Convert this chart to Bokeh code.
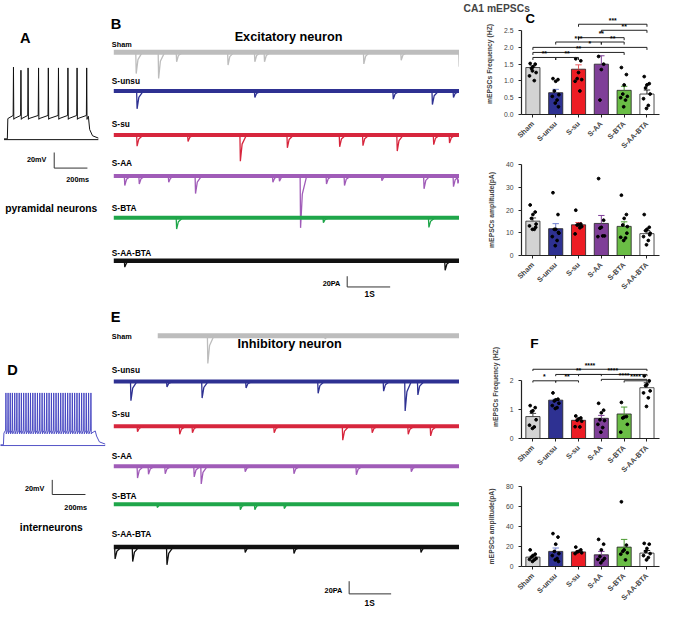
import math
from bokeh.plotting import figure
from bokeh.layouts import row, column
from bokeh.models import Range1d, FixedTicker, NumeralTickFormatter
from bokeh.embed import file_html
from bokeh.resources import INLINE
from bokeh.core.properties import value

FONT = "Liberation Sans"
SX = 660 / 676

def fs(px):
    return f"{px * SX:.1f}px"

# ---------------- data ----------------
groups = ["Sham", "S-unsu", "S-su", "S-AA", "S-BTA", "S-AA-BTA"]
bar_fill = ["#d3d3d3", "#2e3192", "#ed1c24", "#7f3f98", "#6abd45", "#ffffff"]
err_color = ["#444444", "#7080d0", "#e8585c", "#7f3f98", "#4a9a30", "#222222"]
trace_color = ["#bdbdbd", "#2e3192", "#d7263d", "#a05cb8", "#1fa64a", "#111111"]

# C: excitatory frequency (Hz)
c_freq_mean = [1.40, 0.65, 1.35, 1.50, 0.72, 0.61]
c_freq_sem = [0.05, 0.10, 0.13, 0.25, 0.12, 0.12]
c_freq_pts = [
    [1.52, 1.50, 1.42, 1.37, 1.25, 1.15, 1.01, 1.30],
    [1.07, 1.04, 0.99, 0.70, 0.59, 0.54, 0.43, 0.34, 0.23],
    [1.66, 1.60, 1.25, 1.07, 1.04, 0.99, 0.70],
    [1.73, 1.50, 1.34, 0.43],
    [1.40, 1.19, 0.88, 0.61, 0.54, 0.50, 0.43, 0.23],
    [1.13, 0.92, 0.88, 0.79, 0.61, 0.47, 0.27, 0.18],
]
# C: excitatory amplitude (pA)
c_amp_mean = [15.1, 11.8, 13.5, 14.1, 12.8, 9.6]
c_amp_sem = [1.4, 2.2, 1.0, 3.5, 2.0, 1.3]
c_amp_pts = [
    [22.2, 19.1, 18.0, 16.3, 13.8, 13.0, 11.5, 11.5, 12.4],
    [27.6, 18.0, 11.5, 11.5, 9.8, 8.3, 6.6, 4.3, 10.1],
    [19.9, 13.8, 13.6, 13.4, 12.7, 9.5, 12.2],
    [33.8, 15.5, 12.4, 12.0, 8.6, 8.3, 8.6],
    [26.5, 18.0, 16.3, 13.4, 12.7, 8.0, 7.7, 6.6, 9.8],
    [18.0, 12.4, 11.5, 10.9, 9.8, 8.3, 6.6, 4.7, 9.1],
]
# F: inhibitory frequency (Hz)
f_freq_mean = [0.76, 1.33, 0.63, 0.70, 0.85, 1.76]
f_freq_sem = [0.11, 0.03, 0.05, 0.10, 0.24, 0.17]
f_freq_pts = [
    [1.14, 1.07, 0.96, 0.93, 0.65, 0.46, 0.40, 0.35],
    [1.58, 1.36, 1.34, 1.30, 1.22, 1.14, 1.07, 1.04],
    [0.78, 0.71, 0.68, 0.63, 0.60, 0.41, 0.40],
    [1.22, 0.98, 0.89, 0.65, 0.62, 0.49, 0.38, 0.22],
    [1.25, 0.76, 0.74, 0.71, 0.49, 0.22],
    [2.17, 2.00, 1.87, 1.83, 1.65, 1.58, 1.41, 1.11],
]
# F: inhibitory amplitude (pA)
f_amp_mean = [9.4, 15.1, 14.6, 11.7, 19.4, 13.4]
f_amp_sem = [0.9, 3.4, 1.1, 3.4, 7.7, 2.6]
f_amp_pts = [
    [16.6, 12.3, 10.9, 9.4, 8.0, 7.1, 6.6, 5.1],
    [32.9, 29.4, 22.3, 15.1, 12.9, 10.9, 8.0, 6.6, 5.1],
    [19.4, 16.6, 15.1, 14.6, 13.7, 12.9],
    [27.1, 22.3, 16.6, 10.0, 8.0, 7.1, 6.0, 3.7],
    [64.7, 21.4, 16.6, 15.1, 13.7, 12.3, 6.6],
    [23.1, 22.3, 18.0, 15.1, 12.9, 10.9, 8.9, 6.6],
]

# significance brackets: (group i, group j, level, stars)
c_freq_sig = [(2, 5, 2.69, "***"), (3, 5, 2.51, "**"), (2, 4, 2.29, "**"),
              (1, 3, 2.16, "***"), (3, 4, 2.16, "**"), (0, 5, 2.00, "*"),
              (0, 4, 1.85, "**"), (0, 1, 1.70, "**"), (1, 2, 1.70, "**")]
f_freq_sig = [(0, 5, 2.40, "****"), (2, 5, 2.22, "****"), (1, 3, 2.22, "**"),
              (3, 5, 2.05, "****"), (0, 1, 2.0, "*"), (1, 2, 2.0, "**"),
              (4, 5, 2.0, "****")]

# spontaneous events (time s, amplitude pA) for each group's trace
exc_events = [
    [(0.50, 40), (1.01, 49), (1.42, 18), (2.59, 24), (3.20, 18), (3.42, 18), (5.68, 22), (6.53, 15), (7.85, 27)],
    [(0.52, 33), (3.20, 12), (6.35, 15), (7.24, 25), (7.72, 12)],
    [(0.52, 21), (1.68, 12), (2.87, 49), (3.94, 24), (5.13, 22), (5.66, 20), (6.44, 30), (7.27, 18), (7.63, 15)],
    [(0.24, 18), (0.57, 15), (1.24, 12), (1.85, 33), (3.61, 12), (3.76, 10), (4.24, 97), (4.83, 15), (5.24, 18), (6.09, 9), (7.05, 24), (7.72, 20), (7.82, 14)],
    [(1.42, 21), (4.76, 9), (7.16, 18)],
    [(0.24, 12), (7.53, 18)],
]
inh_events = [
    [(2.13, 52), (4.80, 6)],
    [(0.38, 36), (1.20, 10), (2.00, 31), (3.00, 12), (4.64, 22), (6.13, 18), (6.62, 55), (6.91, 25)],
    [(0.53, 10), (1.49, 15), (1.78, 12), (3.64, 12), (5.20, 26), (5.87, 12), (6.69, 15), (7.20, 18)],
    [(0.53, 22), (0.78, 15), (1.16, 14), (1.82, 20), (1.98, 33), (2.98, 10), (4.09, 14), (5.51, 16), (6.76, 10)],
    [(0.98, 6), (2.87, 10), (3.20, 10), (3.87, 8)],
    [(0.02, 22), (0.42, 27), (1.20, 33), (2.98, 10), (4.09, 12), (6.98, 10)],
]
# start time (s) of each inhibitory trace
inh_start = [1.0, 0, 0, 0, 0, 0]

# current-clamp firing (ms, mV)
a_spike_ms = [37, 82, 125, 188, 247, 308, 365, 420, 478]
a_peak_mv = [22, 18, 21, 21, 21, 21, 21, 21, 21]
a_rest_mv, a_plateau_mv, a_step_off_ms = -70, -41, 488
d_spike_ms = [15, 28, 41, 54, 68, 81, 95, 108, 122, 136, 150, 163, 177, 191, 205,
              219, 233, 247, 261, 275, 289, 303, 317, 331, 345, 359, 373, 387, 401,
              415, 429, 443, 457, 471, 485, 499, 513, 527]
d_peak_mv = 1
d_rest_mv, d_plateau_mv, d_step_off_ms = -70, -51, 553

# ---------------- helpers ----------------
def blank_fig(w, h, x0, x1, ytop, ybot):
    p = figure(width=w, height=h, x_range=Range1d(x0, x1), y_range=Range1d(ybot, ytop),
               output_backend="svg", toolbar_location=None, x_axis_type=None, y_axis_type=None,
               min_border=0, min_border_left=0, min_border_right=0, min_border_top=0, min_border_bottom=0)
    p.grid.visible = False
    p.outline_line_color = None
    return p

def txt(p, x, y, s, size, bold=True, align="left", baseline="middle", color="black"):
    p.text(x=[x], y=[y], text=[s], text_font=value(FONT), text_font_size=fs(size),
           text_font_style="bold" if bold else "normal", text_align=align,
           text_baseline=baseline, text_color=color)

def mini_trace(p, base, events, color, band, t0=0.0, x0=116, pxs=45, pxpa=0.55, t_end=7.9):
    # noise band drawn as thick baseline
    p.line(x=[x0 + t0 * pxs, x0 + t_end * pxs], y=[base, base], line_color=color, line_width=band)
    xs, ys = [], []
    for t, a in events:
        d = a * pxpa
        xs.append([x0 + t * pxs, x0 + (t + 0.01) * pxs, x0 + (t + 0.05) * pxs, x0 + (t + 0.15) * pxs])
        ys.append([base, base + d, base + d * 0.35, base])
    p.multi_line(xs=xs, ys=ys, line_color=color, line_width=1.3)

def clamp_trace(p, x0, y_rest, pxms, pxmv, spikes, peaks, rest, plateau, off, color, lw=1):
    def X(t): return x0 + t * pxms
    def Y(v): return y_rest - (v - rest) * pxmv
    tx, ty = [X(-20), X(0), X(3)], [Y(rest), Y(rest), Y(plateau - 3)]
    for t, pk in zip(spikes, peaks):
        tx += [X(t - 2), X(t), X(t + 2), X(t + 4)]
        ty += [Y(plateau + 1), Y(pk), Y(plateau - 4), Y(plateau - 3)]
    tx += [X(off), X(off + 8), X(off + 25), X(off + 60)]
    ty += [Y(plateau), Y(rest + 12), Y(rest + 4), Y(rest + 1)]
    p.line(tx, ty, line_color=color, line_width=lw)
    p.line([X(-20), X(off + 60)], [Y(rest - 1), Y(rest - 1)], line_color=color, line_width=lw)

def bar_fig(w, h, means, sems, pts, yticks, ymax, ylabel, borders, sig, fmt):
    left, top, bottom = borders
    p = figure(width=w, height=h, x_range=Range1d(-0.5, 5.55), y_range=Range1d(0, ymax),
               output_backend="svg", toolbar_location=None,
               min_border_left=left, min_border_right=1, min_border_top=top, min_border_bottom=bottom)
    p.grid.visible = False
    p.outline_line_color = None
    xs = list(range(len(groups)))
    p.vbar(x=xs, top=means, width=0.62, fill_color=bar_fill, line_color="#222222", line_width=0.8)
    tops = [m + s for m, s in zip(means, sems)]
    p.segment(x0=xs, y0=means, x1=xs, y1=tops, line_color=err_color, line_width=1)
    p.segment(x0=[x - 0.14 for x in xs], y0=tops, x1=[x + 0.14 for x in xs], y1=tops,
              line_color=err_color, line_width=1)
    jit = [-0.12, 0.1, 0.0, -0.06, 0.14, -0.15, 0.06, -0.02, 0.12, 0.03]
    dx, dy = [], []
    for i, vals in enumerate(pts):
        for k, v in enumerate(vals):
            dx.append(i + jit[k % len(jit)])
            dy.append(v)
    p.scatter(x=dx, y=dy, size=2.8, color="black")
    tick = (yticks[-1]) * 0.03
    for i, j, lev, stars in sig:
        p.line([i, i, j, j], [lev - tick, lev, lev, lev - tick], line_color="#222222", line_width=1)
        txt(p, (i + j) / 2, lev + tick * 0.2, stars, 7, baseline="bottom", align="center")
    ax = p.yaxis[0]
    ax.bounds = (0, yticks[-1])
    ax.ticker = FixedTicker(ticks=yticks)
    ax.formatter = NumeralTickFormatter(format=fmt)
    ax.axis_label = ylabel
    ax.axis_label_text_font = FONT
    ax.axis_label_text_font_size = fs(7)
    ax.axis_label_text_font_style = "bold"
    ax.axis_label_standoff = 8
    ax.major_label_text_font = FONT
    ax.major_label_text_font_size = fs(7)
    ax.major_tick_out = 3
    ax.major_tick_in = 0
    ax.minor_tick_out = 0
    ax.minor_tick_in = 0
    bx = p.xaxis[0]
    bx.ticker = FixedTicker(ticks=xs)
    bx.major_label_overrides = {i: g for i, g in enumerate(groups)}
    bx.major_label_orientation = math.pi / 4
    bx.major_label_text_font = FONT
    bx.major_label_text_font_size = fs(7.5)
    bx.major_label_text_font_style = "bold"
    bx.major_tick_out = 3
    bx.major_tick_in = 0
    bx.minor_tick_out = 0
    bx.minor_tick_in = 0
    for a in (ax, bx):
        a.axis_line_color = "#222222"
        a.major_tick_line_color = "#222222"
        a.axis_line_width = 1.2
    return p

# ---------------- top-left / middle (A, B) ----------------
top = blank_fig(459, 304, 0, 470, 0, 312)
txt(top, 20, 38, "A", 15)
clamp_trace(top, 7, 142, 0.17, 0.8, a_spike_ms, a_peak_mv, a_rest_mv, a_plateau_mv, a_step_off_ms, "#111111")
top.line([55, 55, 89], [156, 172, 172], line_color="#333333", line_width=1)
txt(top, 47, 163, "20mV", 7.5, align="right")
txt(top, 79, 184, "200ms", 7.5, align="center")
txt(top, 52, 213, "pyramidal neurons", 10.5, align="center")

txt(top, 113, 24, "B", 15)
txt(top, 295, 37, "Excitatory neuron", 13, align="center")
exc_base = [53, 93, 138, 180, 223, 267]
exc_label_y = [45, 83, 127, 167, 213, 259]
exc_band = [5, 4, 4, 4, 4, 4.5]
for g, b, ly, c, ev, bw in zip(groups, exc_base, exc_label_y, trace_color, exc_events, exc_band):
    txt(top, 114, ly, g, 7.5 if g == "Sham" else 8.5)
    mini_trace(top, b, ev, c, bw)
top.line([355, 355, 399], [283, 294, 294], line_color="#333333", line_width=1)
txt(top, 348, 290, "20PA", 7.5, align="right")
txt(top, 378, 301, "1S", 8.5, align="center")

# ---------------- bottom-left / middle (D, E) ----------------
bot = blank_fig(459, 304, 0, 470, 312, 624)
txt(bot, 7, 379, "D", 15)
clamp_trace(bot, 3, 456, 0.17, 0.75, d_spike_ms, [d_peak_mv] * len(d_spike_ms),
            d_rest_mv, d_plateau_mv, d_step_off_ms, "#4040c0", lw=0.9)
bot.line([53, 53, 87], [492, 507, 507], line_color="#333333", line_width=1)
txt(bot, 45, 501, "20mV", 7.5, align="right")
txt(bot, 77, 520, "200ms", 7.5, align="center")
txt(bot, 52, 541, "interneurons", 10.5, align="center")

txt(bot, 113, 325, "E", 15)
txt(bot, 296, 353, "Inhibitory neuron", 13, align="center")
inh_base = [344, 391, 437, 478, 517, 561]
inh_label_y = [345, 379, 424, 467, 509, 548]
for g, b, ly, c, ev, bw, t0 in zip(groups, inh_base, inh_label_y, trace_color, inh_events, exc_band, inh_start):
    txt(bot, 114, ly, g, 7.5 if g == "Sham" else 8.5)
    mini_trace(bot, b, ev, c, bw, t0=t0)
bot.line([357, 357, 400], [596, 609, 609], line_color="#333333", line_width=1)
txt(bot, 350, 606, "20PA", 7.5, align="right")
txt(bot, 378, 618, "1S", 8.5, align="center")

# ---------------- right column (C, F) ----------------
c1 = bar_fig(201, 156, c_freq_mean, c_freq_sem, c_freq_pts, [0, 0.5, 1.0, 1.5, 2.0, 2.5], 3.01,
             "mEPSCs Frequency (HZ)", (62, 13, 33), c_freq_sig, "0.0")
c1.title.text = "CA1 mEPSCs"
c1.title.align = "left"
c1.title.offset = -58
c1.title.standoff = 0
c1.title.text_font = FONT
c1.title.text_font_size = fs(10.5)
c1.title.text_font_style = "bold"
txt(c1, -0.33, 2.87, "C", 13.5)
c2 = bar_fig(201, 156, c_amp_mean, c_amp_sem, c_amp_pts, [0, 10, 20, 30, 40], 40,
             "mEPSCs amplitude(pA)", (62, 8, 57), [], "0")
f1 = bar_fig(201, 168, f_freq_mean, f_freq_sem, f_freq_pts, [0, 1, 2], 3.57,
             "mEPSCs Frequency (HZ)", (62, 23, 38), f_freq_sig, "0")
txt(f1, -0.12, 3.28, "F", 14)
f2 = bar_fig(201, 128, f_amp_mean, f_amp_sem, f_amp_pts, [0, 20, 40, 60, 80], 80,
             "mEPSCs amplitude(pA)", (62, 6, 32), [], "0")

layout = row(column(top, bot), column(c1, c2, f1, f2))
open("out.html", "w").write(file_html(layout, INLINE))
